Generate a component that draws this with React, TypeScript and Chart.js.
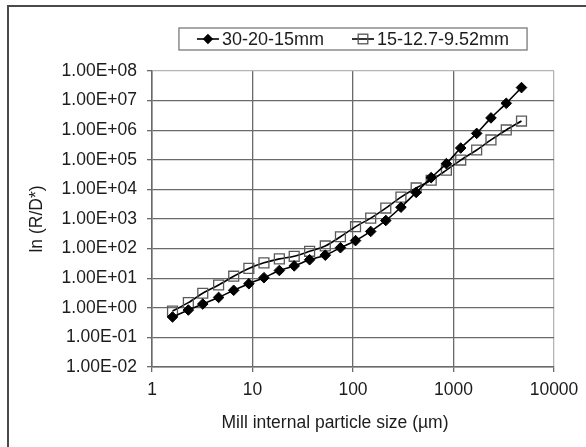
import React, { useEffect, useRef } from "react";
import { Chart, registerables } from "chart.js";

Chart.register(...registerables);

// ---- data ----
const particleSizes = [1.6, 2.3, 3.2, 4.6, 6.5, 9.2, 13, 18.5, 26, 37, 53, 75, 106, 150, 212, 300, 425, 600, 850, 1180, 1700, 2360, 3350, 4750];
const coarseValues = [0.49, 0.84, 1.34, 2.24, 3.9, 6.5, 10.4, 18.2, 26, 42, 60, 107, 186, 380, 890, 2500, 7900, 25000, 74000, 250000, 780000, 2600000, 8100000, 27500000];
const fineValues = [0.78, 1.49, 3.1, 5.9, 11.7, 21.4, 33, 45, 55, 81, 123, 251, 550, 1070, 2340, 5500, 11200, 20400, 44700, 98000, 214000, 468000, 1020000, 2040000];
const seriesNames = ["30-20-15mm", "15-12.7-9.52mm"];
const xTicks = [1, 10, 100, 1000, 10000];
const xTickLabels = ["1", "10", "100", "1000", "10000"];
const yTicks = [1e-2, 1e-1, 1e0, 1e1, 1e2, 1e3, 1e4, 1e5, 1e6, 1e7, 1e8];
const yTickLabels = ["1.00E-02", "1.00E-01", "1.00E+00", "1.00E+01", "1.00E+02", "1.00E+03", "1.00E+04", "1.00E+05", "1.00E+06", "1.00E+07", "1.00E+08"];
const xTitle = "Mill internal particle size (µm)";
const yTitle = "ln (R/D*)";

const FONT = "'Liberation Sans', Arial, sans-serif";
const TEXT = "#1c1c1c";
const GRID = "#6a6a6a";
const LIGHT = "#b4b4b4";

const annotationsPlugin = {
  id: "boxedLegendAndTitle",
  afterDraw(chart: any) {
    const { ctx, chartArea } = chart;
    ctx.save();
    // legend
    ctx.font = `18px ${FONT}`;
    const w1 = ctx.measureText(seriesNames[0]).width;
    const w2 = ctx.measureText(seriesNames[1]).width;
    const padX = 18, symW = 22, gap = 3, between = 28;
    const boxW = padX * 2 + symW * 2 + gap * 2 + w1 + w2 + between;
    const cx = (chartArea.left + chartArea.right) / 2;
    const left = cx - boxW / 2;
    const top = 28, h = 22, midY = top + h / 2;
    ctx.strokeStyle = "#7a7a7a";
    ctx.lineWidth = 1.3;
    ctx.strokeRect(left, top, boxW, h);
    // item 1
    let x = left + padX;
    ctx.strokeStyle = "#000";
    ctx.lineWidth = 1.6;
    ctx.beginPath();
    ctx.moveTo(x, midY);
    ctx.lineTo(x + symW, midY);
    ctx.stroke();
    const d = 5.2, c1 = x + symW / 2;
    ctx.fillStyle = "#000";
    ctx.beginPath();
    ctx.moveTo(c1 - d, midY);
    ctx.lineTo(c1, midY - d);
    ctx.lineTo(c1 + d, midY);
    ctx.lineTo(c1, midY + d);
    ctx.closePath();
    ctx.fill();
    x += symW + gap;
    ctx.fillStyle = TEXT;
    ctx.textAlign = "left";
    ctx.textBaseline = "middle";
    ctx.fillText(seriesNames[0], x, midY + 1);
    x += w1 + between;
    // item 2
    ctx.strokeStyle = "#000";
    ctx.lineWidth = 1.6;
    ctx.beginPath();
    ctx.moveTo(x, midY);
    ctx.lineTo(x + symW, midY);
    ctx.stroke();
    const c2 = x + symW / 2;
    ctx.strokeStyle = "#555";
    ctx.lineWidth = 1.3;
    ctx.strokeRect(c2 - 4.8, midY - 4.8, 9.6, 9.6);
    x += symW + gap;
    ctx.fillStyle = TEXT;
    ctx.fillText(seriesNames[1], x, midY + 1);
    // x axis title
    ctx.font = `17.5px ${FONT}`;
    ctx.textAlign = "center";
    ctx.fillText(xTitle, chartArea.left + 183, 423);
    ctx.restore();
  },
};

export default function App() {
  const canvasRef = useRef<HTMLCanvasElement | null>(null);

  useEffect(() => {
    if (!canvasRef.current) return;
    const chart = new Chart(canvasRef.current, {
      type: "line",
      data: {
        datasets: [
          {
            label: seriesNames[0],
            data: particleSizes.map((s, i) => ({ x: s, y: coarseValues[i] })),
            borderColor: "#000",
            backgroundColor: "#000",
            borderWidth: 1.6,
            pointStyle: "rectRot",
            pointRadius: 5.3,
            pointBackgroundColor: "#000",
            pointBorderColor: "#000",
            pointBorderWidth: 1,
            tension: 0.3,
          },
          {
            label: seriesNames[1],
            data: particleSizes.map((s, i) => ({ x: s, y: fineValues[i] })),
            borderColor: "#000",
            backgroundColor: "rgba(0,0,0,0)",
            borderWidth: 1.6,
            pointStyle: "rect",
            pointRadius: 7,
            pointBackgroundColor: "rgba(0,0,0,0)",
            pointBorderColor: "#5a5a5a",
            pointBorderWidth: 1.3,
            tension: 0.3,
          },
        ],
      },
      options: {
        animation: false,
        responsive: false,
        devicePixelRatio: 1,
        layout: { padding: { left: 0, top: 71, right: 32, bottom: 0 } },
        plugins: {
          legend: { display: false },
          tooltip: { enabled: false },
          title: { display: false },
        },
        scales: {
          x: {
            type: "logarithmic",
            min: 1,
            max: 10000,
            afterBuildTicks: (scale: any) => {
              scale.ticks = xTicks.map((v) => ({ value: v }));
            },
            afterFit: (scale: any) => {
              scale.height = 80;
            },
            ticks: {
              autoSkip: false,
              maxRotation: 0,
              padding: 7.5,
              color: TEXT,
              font: { family: FONT, size: 17.5 },
              callback: (value: any) => xTickLabels[Math.round(Math.log10(Number(value)))],
            },
            grid: {
              color: (c: any) => (c.tick && c.tick.value === 10000 ? LIGHT : GRID),
              lineWidth: 1.3,
              tickLength: 5,
              tickColor: GRID,
              drawTicks: true,
            },
            border: { display: true, color: GRID, width: 1.5 },
          },
          y: {
            type: "logarithmic",
            min: 1e-2,
            max: 1e8,
            afterBuildTicks: (scale: any) => {
              scale.ticks = yTicks.map((v) => ({ value: v }));
            },
            afterFit: (scale: any) => {
              scale.width = 152;
            },
            ticks: {
              autoSkip: false,
              padding: 10,
              color: TEXT,
              font: { family: FONT, size: 17.5 },
              callback: (value: any) => yTickLabels[Math.round(Math.log10(Number(value))) + 2],
            },
            grid: {
              color: (c: any) => (c.tick && c.tick.value === 1e8 ? LIGHT : GRID),
              lineWidth: 1.3,
              tickLength: 5,
              tickColor: GRID,
              drawTicks: true,
            },
            border: { display: true, color: GRID, width: 1.5 },
            title: {
              display: true,
              text: yTitle,
              color: TEXT,
              font: { family: FONT, size: 17.5 },
              padding: { top: 26.5, bottom: 0 },
            },
          },
        },
      },
      plugins: [annotationsPlugin],
    } as any);
    return () => chart.destroy();
  }, []);

  return (
    <div
      style={{
        position: "fixed",
        left: 0,
        top: 0,
        width: 586,
        height: 447,
        overflow: "hidden",
        background: "#fff",
      }}
    >
      <div
        style={{
          position: "absolute",
          left: 7,
          top: 5,
          width: 700,
          height: 600,
          borderLeft: "2px solid #4a4a4a",
          borderTop: "2px solid #4a4a4a",
        }}
      />
      <canvas
        ref={canvasRef}
        width={586}
        height={447}
        style={{ position: "absolute", left: 0, top: 0, display: "block" }}
      />
    </div>
  );
}
